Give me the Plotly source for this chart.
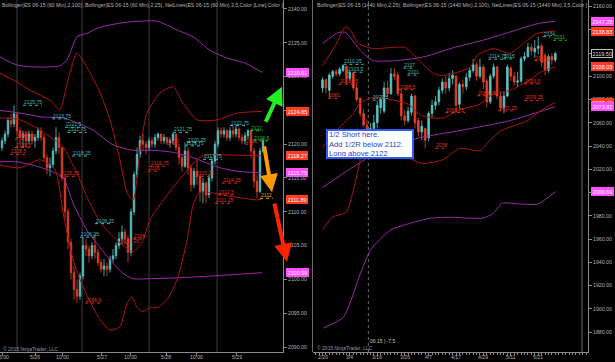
import plotly.graph_objects as go

# ================= LEFT PANEL : ES 06-15 (60 Min) =================
h_open0 = 2119.5
h_close = [2120.5, 2121.5, 2123.5, 2123, 2124.5, 2122, 2121, 2121.5, 2120.5, 2121.5,
           2120.5, 2121, 2122, 2121, 2118, 2116.5, 2117, 2119, 2121, 2119.5,
           2115, 2110, 2105.5, 2101, 2098.5, 2097.5, 2100.5, 2105, 2104.5, 2103.5,
           2105, 2104, 2102.5, 2101.5, 2102, 2101.5, 2103, 2103.5, 2105, 2106,
           2107, 2106, 2104, 2110, 2115.5, 2118.5, 2120.5, 2120, 2119.5, 2120.5,
           2120, 2121, 2121.5, 2120.5, 2121, 2120.25, 2120.5, 2121.5, 2119.5, 2118,
           2116.75, 2119, 2116.5, 2114, 2116, 2115.25, 2113, 2114.25, 2112.5, 2115,
           2117.5, 2120, 2122, 2121.5, 2122, 2121, 2122, 2121.5, 2122.25, 2121,
           2120.5, 2121.25, 2122, 2119, 2114.5, 2113, 2119, 2120.5]
h_high = [2121, 2122, 2124, 2124.5, 2125.75, 2124.5, 2122.5, 2122, 2122, 2122,
          2122, 2121.5, 2122.5, 2122.5, 2121.5, 2118.5, 2118, 2119.5, 2122.5, 2121.75,
          2119.5, 2115.5, 2110.5, 2106, 2102, 2100, 2101, 2106.25, 2106, 2105,
          2105.5, 2106.75, 2104.5, 2103, 2103, 2102.5, 2103.5, 2104.5, 2105.5, 2107,
          2108, 2107.5, 2106.5, 2110.5, 2116, 2119.5, 2121.25, 2121.5, 2120.5, 2121,
          2121, 2121.5, 2121.75, 2121.5, 2121.5, 2121, 2121, 2121.75, 2121.5, 2120,
          2118.5, 2120.25, 2119.5, 2117, 2116.5, 2117.75, 2115.5, 2115, 2114.5, 2115.5,
          2118, 2120.5, 2122.5, 2122.5, 2122.5, 2122.25, 2122.5, 2122.75, 2122.75, 2122.5,
          2121.5, 2121.75, 2122.25, 2122, 2119.5, 2115.5, 2119.5, 2121]
h_low = [2119, 2120, 2121, 2122.5, 2122.5, 2121.5, 2120, 2119.5, 2119.5, 2120,
         2120, 2119.5, 2120.5, 2120.5, 2117.5, 2115.5, 2115.25, 2116.5, 2118.5, 2118.5,
         2114.5, 2109, 2104.5, 2100, 2097, 2096.5, 2097, 2100, 2103.5, 2102.5,
         2103, 2103, 2102, 2101, 2100.5, 2100.5, 2101, 2102.5, 2103, 2104.5,
         2105.5, 2105.25, 2102.5, 2103.5, 2109.5, 2115, 2118, 2119, 2118.5, 2119,
         2119.5, 2119.5, 2120.5, 2120, 2120, 2120, 2119.5, 2120, 2119, 2117,
         2116, 2116.5, 2115.5, 2113, 2113.5, 2114, 2111.5, 2111.25, 2111.25, 2112,
         2114.5, 2117, 2119.5, 2121, 2121, 2120.5, 2120.5, 2121, 2121, 2120.5,
         2120, 2120, 2120.75, 2118, 2113.5, 2112, 2112.75, 2118.75]
h_open = [h_open0] + h_close[:-1]
h_idx = list(range(len(h_close)))

h_tickpos = [0, 11, 20, 33.3, 42.7, 54.7, 65, 78.3]
h_ticktext = ["15:00", "5/26", "10:00", "5/27", "10:00", "5/28", "10:00", "5/29"]
h_sessions = [5, 26.7, 49, 71.7]

# Bollinger(2,100) - purple
h_bb100u_x = [-0.7, 5, 12.7, 19.3, 21.7, 25, 28.3, 32.7, 39.3, 42.7, 51.7, 58.3, 63.7, 69.3, 75, 81, 86.7]
h_bb100u_y = [2132.9, 2131.7, 2131.4, 2131.6, 2132.5, 2135.9, 2136.4, 2137.3, 2137.9, 2138.1, 2138.2, 2136.9, 2135.9, 2133.9, 2132.75, 2132, 2130.61]
h_bb100m_x = [-0.7, 6, 13.7, 20.3, 30.3, 37, 43.7, 50.3, 57, 63.7, 72.7, 78.3, 86.7]
h_bb100m_y = [2125, 2124.6, 2124, 2123.9, 2122.1, 2119.9, 2119.1, 2119.1, 2118.8, 2118, 2116.5, 2116, 2115.75]
h_bb100l_x = [-0.7, 5, 12.7, 20.3, 23.7, 28.3, 36, 40.3, 43.7, 49.3, 57, 66, 86.7]
h_bb100l_y = [2117.4, 2117.4, 2116.6, 2115.1, 2111.3, 2107.3, 2102.9, 2100.9, 2100.1, 2100.1, 2100.2, 2100.4, 2100.99]
# Bollinger(2,25) - dark red
h_bb25u_x = [-0.7, 5, 9.3, 16, 19.3, 21.7, 25, 28.3, 32.7, 36, 39.3, 41.7, 43.7, 46, 48.3, 52.7, 57, 60.3, 65, 71.7, 78.3, 86.7]
h_bb25u_y = [2130.5, 2129.2, 2128, 2126.5, 2125.1, 2129, 2133.5, 2131.4, 2127.6, 2123.6, 2117.7, 2112.8, 2111.7, 2119.1, 2124.6, 2127.6, 2128.5, 2126.1, 2123.6, 2123.6, 2124.6, 2124.85]
h_bb25m_x = [-0.7, 6, 12.7, 16, 20.3, 25, 28.3, 32.7, 38.3, 43.7, 47, 49.3, 57.7, 66, 68.3, 86.7]
h_bb25m_y = [2123.9, 2123.6, 2122.1, 2121.1, 2119.6, 2115.7, 2112.2, 2108.5, 2105.8, 2104.1, 2105.8, 2108.8, 2114, 2118.1, 2118.4, 2118.27]
h_bb25l_x = [-0.7, 6, 12.7, 17.7, 20.3, 23.7, 27, 32.7, 36, 39.3, 41.7, 43.3, 45, 47, 49.3, 51.7, 55, 58.3, 61.7, 63.7, 66, 76, 85, 86.7]
h_bb25l_y = [2116.9, 2116.5, 2117.7, 2116.2, 2110, 2102.9, 2098.9, 2094, 2092.5, 2093, 2096.5, 2097.4, 2095.9, 2095.2, 2095.9, 2095.8, 2097, 2099.9, 2105.8, 2111, 2112.9, 2112.3, 2111.75, 2111.89]

# NetLines labels: (start, end, price, text, colour key)
h_labels = [
    (7, 13.3, 2125.75, "2125.75", "c"), (16.7, 22.7, 2123.75, "2123.75", "c"),
    (21, 26, 2122.5, "2122.5", "c"), (21.7, 28.3, 2121.75, "2121.75", "c"),
    (23.3, 29.3, 2118.25, "2118.25", "c"), (26, 32, 2106.25, "2106.25", "c"),
    (31, 36.7, 2108.25, "2108.25", "c"), (57, 62.7, 2121.75, "2121.75", "c"),
    (61.7, 66, 2120.25, "2120.25", "c"), (61, 67, 2119.75, "2119.75", "c"),
    (67, 73.3, 2117.75, "2117.75", "c"), (76, 81.7, 2122.75, "2122.75", "c"),
    (5, 7, 2121, "2121", "r"), (4.3, 10.3, 2120.75, "2120.75", "r"),
    (4.3, 10, 2119.5, "2119.5", "r"), (2.7, 8.3, 2118.5, "2118.5", "r"),
    (19.3, 25, 2115.25, "2115.25", "r"), (27.7, 32.7, 2096.5, "2096.5", "r"),
    (39.3, 43.3, 2105.25, "2105.25", "r"), (43.7, 47, 2106, "2106", "r"),
    (49.3, 55.3, 2116.75, "2116.75", "r"), (48.7, 52, 2116, "2116", "r"),
    (55, 59.3, 2120, "2120", "r"), (64.3, 70, 2115.25, "2115.25", "r"),
    (73.3, 79.3, 2114.25, "2114.25", "r"), (72, 77, 2112.5, "2112.5", "r"),
    (71, 77, 2111.25, "2111.25", "r"), (81, 83.7, 2120, "2120", "r"),
    (83.7, 89.3, 2120.5, "2120.5", "g"), (82.7, 87, 2122, "2122", "g"),
    (86, 90.3, 2112, "2112", "o"),
]
h_markers = [(2130.61, "m"), (2124.85, "r"), (2118.27, "r"), (2115.75, "m"), (2111.89, "r"), (2100.99, "m")]

# arrows: (tail x, tail y, head x, head y, colour)
h_arrows = [(87.7, 2123.1, 93.3, 2128.5, "#22ee22"),
            (87.3, 2119.9, 90.0, 2112.9, "#ff9900"),
            (90.7, 2111.45, 95.0, 2102.6, "#ff2200")]

# ================= RIGHT PANEL : ES 06-15 (1440 Min) =================
d_open = [2090, 2097, 2088, 2100, 2104, 2102, 2105, 2108.5, 2098, 2103,
          2090, 2081, 2068, 2058, 2045, 2055, 2060, 2073, 2070, 2090,
          2085, 2102, 2101, 2085, 2066, 2062, 2069, 2083, 2062, 2052,
          2055, 2047, 2068, 2075, 2078, 2088, 2095, 2090, 2098, 2100,
          2076, 2093, 2091, 2099, 2105, 2110, 2100, 2108, 2096, 2078,
          2100, 2108, 2083, 2073, 2083, 2107, 2100, 2095, 2096, 2115,
          2117, 2125, 2121, 2124, 2126, 2118, 2105, 2117, 2114]
d_close = [2097, 2090, 2101, 2104, 2102, 2106, 2109, 2098, 2103.5, 2090,
           2080, 2068, 2058, 2045, 2055, 2060, 2075, 2080, 2090, 2085,
           2102, 2100, 2085, 2066, 2062, 2070, 2083, 2060, 2052, 2057,
           2045, 2068, 2075, 2078, 2088, 2095, 2090, 2098, 2101, 2075,
           2093, 2091, 2099, 2105, 2110, 2100, 2108, 2095, 2078, 2100,
           2108, 2083, 2073, 2083, 2108, 2100, 2095, 2096, 2115, 2117,
           2125, 2122, 2124, 2126, 2112, 2105, 2117, 2114, 2119.5]
d_high = [2099, 2098, 2103, 2105.5, 2106, 2108, 2110.25, 2109.5, 2104, 2104,
          2094, 2082, 2072, 2063, 2060, 2067, 2079, 2082, 2095, 2096,
          2107, 2107, 2104, 2088.5, 2071, 2074, 2085, 2084, 2064, 2062,
          2056, 2070, 2080, 2083, 2091, 2098, 2100, 2103, 2105, 2101,
          2095, 2097, 2103, 2108, 2114.75, 2112, 2115, 2110, 2098, 2102,
          2111, 2109, 2086, 2087, 2110, 2109, 2104, 2104, 2117, 2121,
          2129, 2128, 2131, 2134, 2128, 2120, 2119, 2120, 2121]
d_low = [2086, 2085, 2081.5, 2098, 2100, 2100, 2103.5, 2093.5, 2096, 2088,
         2078, 2065, 2056, 2040, 2037, 2045, 2055, 2068, 2068, 2082,
         2084, 2097, 2083, 2062, 2058, 2060, 2066, 2055, 2048, 2045,
         2038, 2044, 2064, 2071, 2075, 2085, 2085, 2087, 2093, 2068.75,
         2072, 2085, 2088, 2096, 2103, 2096, 2098, 2089, 2073, 2076,
         2098, 2080, 2070.25, 2068, 2082, 2096, 2092, 2091, 2094, 2113,
         2116, 2118, 2116, 2119, 2108, 2101, 2103, 2110, 2112]
d_idx = list(range(len(d_close)))

d_tickpos = [0, 8, 16, 24, 31, 39, 47, 55, 63]
d_ticktext = ["2/20", "3/4", "3/16", "3/26", "4/7", "4/17", "4/29", "5/11", "5/21"]

d_bb25u_x = [0, 3.8, 6.7, 8.2, 10.5, 14.6, 20.4, 24.2, 26.2, 32.4, 35.3, 43.1, 45.2, 49.9, 54.8, 58.6, 62.7, 68]
d_bb25u_y = [2109.3, 2126.5, 2142.8, 2139.4, 2128.2, 2123.9, 2124.8, 2124.8, 2119.6, 2102.4, 2100.7, 2107.6, 2117.9, 2123.9, 2119.6, 2128.2, 2136.8, 2138.83]
d_bb25m_x = [0, 4, 7, 9, 11, 15, 20, 25, 29, 35, 40, 46, 50, 55, 60, 64, 68]
d_bb25m_y = [2038.5, 2053, 2062, 2068, 2077, 2082, 2080, 2076, 2066, 2064, 2071, 2076, 2085, 2088, 2096, 2104, 2108.03]
d_bb25l_x = [0, 3, 7, 9, 11, 12, 15, 20, 25, 29, 35, 40, 46, 49, 52, 60, 64, 68]
d_bb25l_y = [1968, 1979, 1983, 2002, 2028, 2045, 2040, 2035, 2030, 2025, 2028, 2038, 2036, 2045, 2053, 2062, 2071, 2077.41]
d_bb100u_x = [0, 4.7, 6.7, 11.1, 14.6, 22.2, 30, 38.5, 46.6, 53.4, 63, 68]
d_bb100u_y = [2128.2, 2137.7, 2137.7, 2122.2, 2113.6, 2113.6, 2117, 2124.8, 2130.8, 2136.8, 2145.4, 2147.25]
d_bb100m_x = [0, 8.2, 16.9, 22.7, 28.6, 40.2, 54.8, 68]
d_bb100m_y = [2004.3, 2020.6, 2036, 2042, 2047.3, 2053.3, 2061.9, 2073.82]
d_bb100l_x = [0.3, 6.1, 11.1, 14, 19.8, 25.7, 31.5, 37.3, 43.1, 46.9, 49.9, 52.5, 54.8, 62.7, 65.6, 68]
d_bb100l_y = [1883.4, 1892.8, 1930.6, 1950.4, 1967.6, 1973.6, 1977.9, 1978.7, 1977.9, 1977.9, 1982.2, 1990.8, 1990.8, 1989.9, 1995.1, 2000.69]

d_labels = [
    (6.1, 12, 2110.25, "2110.25", "c"), (7.3, 12, 2103.5, "2103.5", "c"),
    (4.7, 10.2, 2093.25, "2093.25", "r"), (1.7, 4.7, 2081, "2081", "r"),
    (23.6, 27.1, 2107, "2107", "c"), (24.8, 27.7, 2101, "2101", "c"),
    (14.6, 18.4, 2079.5, "2079.5", "c"), (22.2, 26.5, 2088.5, "2088.5", "r"),
    (35.9, 41.7, 2068.75, "2068.75", "r"), (33, 35.9, 2038, "2038", "r"),
    (45.2, 50.4, 2083.25, "2083.25", "r"), (51.3, 56.3, 2070.25, "2070.25", "r"),
    (48.4, 52.8, 2114.75, "2114.75", "c"), (52.8, 55.7, 2115, "2115", "c"),
    (58.9, 63.8, 2093.5, "2093.5", "r"), (58.9, 64.4, 2079.25, "2079.25", "r"),
    (61.8, 66.2, 2113.5, "2113.5", "r"), (64.4, 66.5, 2134, "2134", "c"),
    (67.3, 71.4, 2131, "2131", "g"),
]
d_markers = [(2147.25, "m"), (2138.83, "r"), (2119.50, "k"), (2108.03, "r"),
             (2077.41, "r"), (2073.82, "m"), (2000.69, "m")]

# ================= STYLE =================
W, H = 615, 362
UP, DOWN = "#5cc6c6", "#e8402a"
PURPLE, DARKRED = "#9a2aa8", "#b01414"
LBL = {"c": "#3fb8bf", "r": "#e0301c", "g": "#19c419", "o": "#e6a000"}
MK = {"m": ("#ff4dff", "white"), "r": ("#ff3b24", "white"), "k": ("black", "#dddddd")}
FONT = "Liberation Sans, Arial, sans-serif"
AX = "#8a8a8a"
TXT = "#b4b4b4"

fig = go.Figure()

def add_panel(xa, ya, idx, o, h, l, c, lines):
    fig.add_trace(go.Candlestick(x=idx, open=o, high=h, low=l, close=c,
                                 increasing=dict(line=dict(color=UP, width=0.8), fillcolor=UP),
                                 decreasing=dict(line=dict(color=DOWN, width=0.8), fillcolor=DOWN),
                                 whiskerwidth=0, xaxis=xa, yaxis=ya, showlegend=False, hoverinfo="skip"))
    for lx, ly, col in lines:
        fig.add_trace(go.Scatter(x=lx, y=ly, mode="lines", line=dict(color=col, width=1, shape="spline", smoothing=0.6),
                                 xaxis=xa, yaxis=ya, showlegend=False, hoverinfo="skip"))

add_panel("x", "y", h_idx, h_open, h_high, h_low, h_close,
          [(h_bb100u_x, h_bb100u_y, PURPLE), (h_bb100m_x, h_bb100m_y, PURPLE), (h_bb100l_x, h_bb100l_y, PURPLE),
           (h_bb25u_x, h_bb25u_y, DARKRED), (h_bb25m_x, h_bb25m_y, DARKRED), (h_bb25l_x, h_bb25l_y, DARKRED)])
add_panel("x2", "y2", d_idx, d_open, d_high, d_low, d_close,
          [(d_bb100u_x, d_bb100u_y, PURPLE), (d_bb100m_x, d_bb100m_y, PURPLE), (d_bb100l_x, d_bb100l_y, PURPLE),
           (d_bb25u_x, d_bb25u_y, DARKRED), (d_bb25m_x, d_bb25m_y, DARKRED), (d_bb25l_x, d_bb25l_y, DARKRED)])

shapes, annos = [], []

# session separators
for s in h_sessions:
    shapes.append(dict(type="line", xref="x", yref="paper", x0=s, x1=s, y0=10/H, y1=1,
                       line=dict(color="#3c3c3c", width=1), layer="below"))
shapes.append(dict(type="line", xref="x2", yref="paper", x0=13.4, x1=13.4, y0=10/H, y1=1,
                   line=dict(color="#6a6a6a", width=1, dash="dot"), layer="below"))
shapes.append(dict(type="line", xref="x2", yref="paper", x0=75.8, x1=75.8, y0=10/H, y1=1,
                   line=dict(color="#6a6a6a", width=1), layer="below"))
shapes.append(dict(type="line", xref="paper", yref="paper", x0=312.5/W, x1=312.5/W, y0=10/H, y1=1,
                   line=dict(color="#6a6a6a", width=1)))

def add_labels(labels, xr, yr):
    for a, b, p, t, k in labels:
        shapes.append(dict(type="line", xref=xr, yref=yr, x0=a, x1=b, y0=p, y1=p,
                           line=dict(color=LBL[k], width=1, dash="dot")))
        annos.append(dict(xref=xr, yref=yr, x=a, y=p, text=t, showarrow=False, xanchor="left",
                          yanchor="bottom", borderpad=0, yshift=-1, font=dict(family=FONT, size=5, color=LBL[k])))

add_labels(h_labels, "x", "y")
add_labels(d_labels, "x2", "y2")

def add_markers(markers, xpx, yr):
    for p, k in markers:
        bg, fc = MK[k]
        annos.append(dict(xref="paper", yref=yr, x=xpx/W, y=p, text=f"{p:.2f}", showarrow=False,
                          xanchor="left", yanchor="middle", bgcolor=bg, bordercolor=("#bbbbbb" if k == "k" else bg),
                          borderwidth=1, borderpad=0.5, font=dict(family=FONT, size=5.5, color=fc)))

add_markers(h_markers, 285.5, "y")
add_markers(d_markers, 590.5, "y2")

for tx, ty, hx, hy, col in h_arrows:
    annos.append(dict(xref="x", yref="y", axref="x", ayref="y", x=hx, y=hy, ax=tx, ay=ty, text="",
                      showarrow=True, arrowhead=2, arrowsize=0.9, arrowwidth=4, arrowcolor=col,
                      standoff=0, startstandoff=0))

# x tick labels as annotations (placed like the reference)
for pos, t in zip(h_tickpos, h_ticktext):
    annos.append(dict(xref="x", yref="paper", x=pos, y=1-357/H, text=t, showarrow=False, xanchor="center",
                      yanchor="middle", font=dict(family=FONT, size=5.2, color=TXT)))
for pos, t in zip(d_tickpos, d_ticktext):
    annos.append(dict(xref="x2", yref="paper", x=pos, y=1-357/H, text=t, showarrow=False, xanchor="center",
                      yanchor="middle", font=dict(family=FONT, size=5.2, color=TXT)))

# annotation box
annos.append(dict(xref="paper", yref="paper", x=369.5/W, y=1-144.5/H, xanchor="center", yanchor="middle",
                  text="1/2 Short here.<br>Add 1/2R below 2112.<br>Long above 2122", align="left",
                  showarrow=False, bgcolor="white", bordercolor="#2a5cff", borderwidth=2, borderpad=1,
                  width=82, height=24, font=dict(family=FONT, size=7.6, color="#2546d0")))

# header texts
annos.append(dict(xref="paper", yref="paper", x=0, y=1-5/H, xanchor="left", yanchor="middle", showarrow=False,
                  text="Bollinger(ES 06-15 (60 Min),2,100), Bollinger(ES 06-15 (60 Min),2,25), NetLines(ES 06-15 (60 Min),3,5,Color [Line],Color [",
                  font=dict(family="Liberation Sans Narrow, Liberation Sans, Arial", size=5.2, color=TXT)))
annos.append(dict(xref="paper", yref="paper", x=315/W, y=1-5/H, xanchor="left", yanchor="middle", showarrow=False,
                  text="Bollinger(ES 06-15 (1440 Min),2,25), Bollinger(ES 06-15 (1440 Min),2,100), NetLines(ES 06-15 (1440 Min),3,5,Color [",
                  font=dict(family="Liberation Sans Narrow, Liberation Sans, Arial", size=5.2, color=TXT)))
annos.append(dict(xref="paper", yref="paper", x=1/W, y=1-349/H, xanchor="left", yanchor="middle", showarrow=False,
                  text="© 2015 NinjaTrader, LLC", font=dict(family=FONT, size=5, color="#9a9a9a")))
annos.append(dict(xref="paper", yref="paper", x=315/W, y=1-348/H, xanchor="left", yanchor="middle", showarrow=False,
                  text="© 2015 NinjaTrader, LLC", font=dict(family=FONT, size=5, color="#9a9a9a")))
annos.append(dict(xref="paper", yref="paper", x=368/W, y=1-341/H, xanchor="left", yanchor="middle", showarrow=False,
                  text="06:15 | -7.5", font=dict(family=FONT, size=5, color="#c8c8c8")))

axfont = dict(family=FONT, size=5.2, color=TXT)
common_x = dict(showgrid=False, zeroline=False, showline=True, linecolor=AX, linewidth=1, ticks="outside",
                ticklen=3, tickcolor=AX, showticklabels=False, rangeslider=dict(visible=False), tickmode="array",
                fixedrange=True)
common_y = dict(showgrid=False, zeroline=False, showline=True, linecolor=AX, linewidth=1, ticks="outside",
                ticklen=3, tickcolor=AX, tickfont=axfont, side="right", tickmode="array", fixedrange=True,
                ticklabeloverflow="allow", domain=[10/H, 1])

yl_ticks = [2090, 2095, 2100, 2105, 2110, 2115, 2120, 2125, 2130, 2135, 2140]
yr_ticks = [1880, 1900, 1920, 1940, 1960, 1980, 2000, 2020, 2040, 2060, 2080, 2100, 2120, 2140, 2160]

fig.update_layout(
    width=W, height=H, margin=dict(l=0, r=0, t=0, b=0),
    paper_bgcolor="black", plot_bgcolor="black", showlegend=False,
    xaxis=dict(common_x, domain=[0, 283/W], range=[-0.667, 93.67], tickvals=h_tickpos, anchor="y"),
    yaxis=dict(common_y, anchor="x", range=[2089.26, 2141.33], tickvals=yl_ticks,
               ticktext=[f"{v:.2f}" for v in yl_ticks]),
    xaxis2=dict(common_x, domain=[312.5/W, 588/W], range=[-2.92, 77.55], tickvals=d_tickpos,
                anchor="y2", minor=dict(ticks="outside", ticklen=2, dtick=1, tick0=0, tickcolor=AX)),
    yaxis2=dict(common_y, anchor="x2", range=[1862.8, 2165.6], tickvals=yr_ticks,
                ticktext=[f"{v:.2f}" for v in yr_ticks]),
    shapes=shapes, annotations=annos,
)

fig.write_html("out.html", config={"displayModeBar": False, "staticPlot": True},
               post_script="document.body.style.margin='0px';document.body.style.overflow='hidden';")
